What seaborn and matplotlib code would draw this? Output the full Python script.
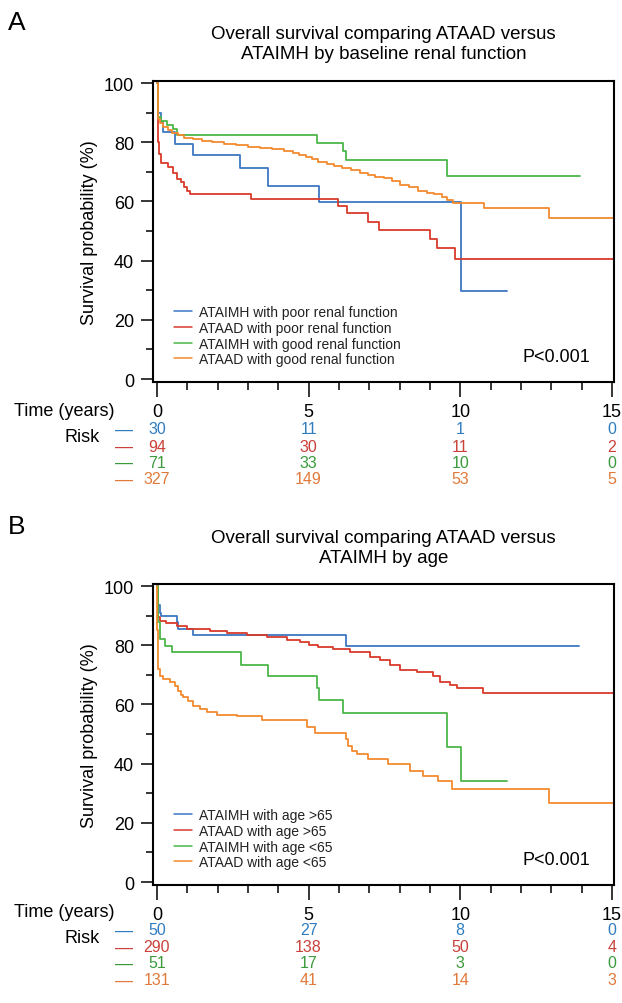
import numpy as np
import pandas as pd
import matplotlib
matplotlib.use('Agg')
import matplotlib.pyplot as plt
import matplotlib.transforms as mtransforms
from matplotlib.ticker import MultipleLocator
import seaborn as sns

sns.set_theme(style='ticks')
plt.rcParams['font.family'] = ['Liberation Sans', 'DejaVu Sans']
plt.rcParams['text.color'] = 'black'
plt.rcParams['axes.labelcolor'] = 'black'
plt.rcParams['xtick.color'] = 'black'
plt.rcParams['ytick.color'] = 'black'

# ---------------- data: panel A ----------------
labels_A = ['ATAIMH with poor renal function', 'ATAAD with poor renal function',
            'ATAIMH with good renal function', 'ATAAD with good renal function']
blue_A_t = [0, 0.03, 0.15, 0.2, 0.6, 1.2, 2.75, 3.65, 5.35, 10.02, 11.55]
blue_A_s = [100, 90, 86.7, 83.3, 79.5, 75.8, 71.2, 65.3, 59.7, 29.9, 29.9]
red_A_t = [0, 0.02, 0.05, 0.08, 0.12, 0.37, 0.54, 0.65, 0.78, 0.89, 0.98, 1.09, 3.1,
           5.97, 6.27, 6.96, 7.32, 9.0, 9.24, 9.83, 15.1]
red_A_s = [100, 86, 80, 76, 73, 71.5, 69.7, 67.5, 66.5, 65, 63.5, 62.4, 60.8,
           58.6, 56, 53, 50.3, 47.3, 44.2, 40.5, 40.5]
green_A_t = [0, 0.05, 0.15, 0.32, 0.52, 0.67, 5.27, 6.12, 6.23, 9.55, 13.95]
green_A_s = [100, 88.7, 87.3, 85.9, 84.5, 82.6, 79.7, 77.0, 74.1, 68.7, 68.7]
orange_A_t = [0, 0.02, 0.05, 0.1, 0.2, 0.35, 0.5, 0.7, 0.9, 1.2, 1.5, 1.8, 2.2, 2.6,
              3.0, 3.4, 3.8, 4.2, 4.5, 4.7, 4.9, 5.1, 5.3, 5.6, 5.85, 6.1, 6.4, 6.7,
              6.95, 7.2, 7.5, 7.75, 8.0, 8.3, 8.6, 8.9, 9.15, 9.4, 9.55, 9.75, 10.78,
              12.93, 15.1]
orange_A_s = [100, 92, 88, 86.5, 85, 84, 83.2, 82.3, 81.6, 81.0, 80.5, 80.1, 79.5, 79.0,
              78.5, 78.0, 77.6, 77.1, 76.5, 75.8, 75.0, 74.2, 73.5, 72.8, 72.0, 71.4, 70.5,
              69.7, 68.9, 68.3, 67.8, 66.8, 65.6, 65.0, 63.6, 63.0, 62.5, 61.5, 60.6, 59.5,
              57.7, 54.4, 54.4]
risk_times = [0, 5, 10, 15]
risk_A = [[30, 11, 1, 0], [94, 30, 11, 2], [71, 33, 10, 0], [327, 149, 53, 5]]

# ---------------- data: panel B ----------------
labels_B = ['ATAIMH with age >65', 'ATAAD with age >65',
            'ATAIMH with age <65', 'ATAAD with age <65']
blue_B_t = [0, 0.02, 0.1, 0.15, 0.65, 0.7, 1.2, 6.25, 13.9]
blue_B_s = [100, 93.5, 91, 89.8, 88, 85.6, 83.4, 79.8, 79.8]
red_B_t = [0, 0.02, 0.1, 0.3, 0.65, 0.98, 1.75, 2.3, 2.96, 3.62, 4.28, 4.71, 5.0, 5.3,
           5.81, 6.36, 7.02, 7.35, 7.68, 8.01, 8.56, 9.11, 9.33, 9.66, 9.88, 10.76, 15.1]
red_B_s = [100, 89.5, 88.3, 87.4, 86.6, 85.5, 84.7, 84.3, 83.4, 82.7, 81.9, 81.0, 80.2, 79.5,
           78.7, 77.8, 76.2, 75.0, 73.3, 71.7, 70.8, 69.7, 67.7, 66.6, 65.6, 63.9, 63.9]
green_B_t = [0, 0.02, 0.1, 0.26, 0.5, 2.77, 3.67, 5.27, 5.35, 6.12, 9.55, 10.02, 11.55]
green_B_s = [100, 88, 82, 79.8, 77.8, 73.4, 69.7, 65.7, 61.6, 57.0, 45.7, 34.2, 34.2]
orange_B_t = [0, 0.01, 0.02, 0.05, 0.1, 0.21, 0.43, 0.59, 0.70, 0.80, 0.87, 1.03, 1.2, 1.42,
              1.64, 1.97, 2.63, 3.45, 4.94, 5.21, 6.23, 6.31, 6.42, 6.58, 6.97, 7.63, 8.34,
              8.78, 9.27, 9.72, 12.93, 15.1]
orange_B_s = [100, 85, 77, 72, 69.7, 68.6, 67.7, 66.3, 64.6, 63.3, 62.4, 61.2, 59.5, 58.4,
              57.3, 56.4, 56.0, 54.8, 52.5, 50.3, 48.3, 46.0, 44.3, 43.2, 41.6, 39.9, 37.6,
              35.7, 34.2, 31.6, 26.7, 26.7]
risk_B = [[50, 27, 8, 0], [290, 138, 50, 4], [51, 17, 3, 0], [131, 41, 14, 3]]

title_A = 'Overall survival comparing ATAAD versus\nATAIMH by baseline renal function'
title_B = 'Overall survival comparing ATAAD versus\nATAIMH by age'
p_text = 'P<0.001'

line_colors = ['#3d78c3', '#d93a2b', '#4cb649', '#f28a2e']
risk_colors = ['#2f7cbf', '#c9413a', '#3a9a3c', '#e0793a']

W, H = 622, 1004
fig = plt.figure(figsize=(W / 100, H / 100), dpi=100)


def rect(l, t, r, b):
    return [l / W, 1 - b / H, (r - l) / W, (b - t) / H]


def panel(box, letter, title, labels, ts, ss, risk, top_px, time_px, rows_px, risk_px):
    ax = fig.add_axes(rect(*box))
    frames = []
    for lab, t, s in zip(labels, ts, ss):
        frames.append(pd.DataFrame({'time': t, 'surv': s, 'group': lab}))
    df = pd.concat(frames, ignore_index=True)
    sns.lineplot(data=df, x='time', y='surv', hue='group', hue_order=labels,
                 palette=line_colors, drawstyle='steps-post', estimator=None,
                 linewidth=1.3, ax=ax, legend=True)
    leg = ax.get_legend()
    handles = leg.legend_handles
    leg.remove()
    for h in handles:
        h.set_linewidth(1.1)
    ax.legend(handles, labels, loc='lower left', bbox_to_anchor=(0.045, 0.052),
              frameon=False, fontsize=10, handlelength=1.35, handletextpad=0.5,
              labelspacing=0.13, borderpad=0, borderaxespad=0, labelcolor='#222222')
    ax.set_xlim(-0.13, 15.07)
    ax.set_ylim(-1.0, 100.7)
    ax.set_xticks(risk_times)
    ax.xaxis.set_minor_locator(MultipleLocator(1))
    ax.set_yticks(range(0, 101, 20))
    ax.yaxis.set_minor_locator(MultipleLocator(10))
    ax.tick_params(axis='both', which='both', direction='out', width=1.1, color='black',
                   labelsize=13, labelcolor='black')
    ax.tick_params(axis='x', which='major', length=10.8, pad=4)
    ax.tick_params(axis='x', which='minor', length=5.5)
    ax.tick_params(axis='y', which='major', length=8.6, pad=5)
    ax.tick_params(axis='y', which='minor', length=5)
    for sp in ax.spines.values():
        sp.set_visible(True)
        sp.set_linewidth(1.5)
        sp.set_color('black')
    ax.set_xlabel('')
    ax.set_ylabel('Survival probability (%)', fontsize=13, labelpad=4, color='black')
    ax.text(0.948, 0.086, p_text, transform=ax.transAxes, ha='right', va='center',
            fontsize=13, color='black')
    # titles and letters
    fig.text(383.5 / W, 1 - top_px / H, title, ha='center', va='center', fontsize=13.5,
             linespacing=1.25, color='black')
    fig.text(17 / W, 1 - (top_px - 22) / H, letter, ha='center', va='center', fontsize=19,
             color='black')
    # risk table
    tr = mtransforms.blended_transform_factory(ax.transData, fig.transFigure)
    fig.text(14 / W, 1 - time_px / H, 'Time (years)', ha='left', va='center', fontsize=13,
             color='black')
    fig.text(64 / W, 1 - risk_px / H, 'Risk', ha='left', va='center', fontsize=13,
             color='black')
    for i, (row, y) in enumerate(zip(risk, rows_px)):
        fig.text(124 / W, 1 - y / H, '\u2014', ha='center', va='center', fontsize=13,
                 color=risk_colors[i])
        for tt, n in zip(risk_times, row):
            ax.text(tt, 1 - y / H, str(n), transform=tr, ha='center', va='center',
                    fontsize=11.5, color=risk_colors[i])
    return ax


panel((153, 82, 614, 383), 'A', title_A, labels_A,
      [blue_A_t, red_A_t, green_A_t, orange_A_t],
      [blue_A_s, red_A_s, green_A_s, orange_A_s], risk_A,
      44.5, 411, [430, 447, 463, 480], 437)
panel((153, 585, 614, 886), 'B', title_B, labels_B,
      [blue_B_t, red_B_t, green_B_t, orange_B_t],
      [blue_B_s, red_B_s, green_B_s, orange_B_s], risk_B,
      548.5, 913, [931, 948, 964, 981], 939)

fig.savefig('out.png', dpi=100)
